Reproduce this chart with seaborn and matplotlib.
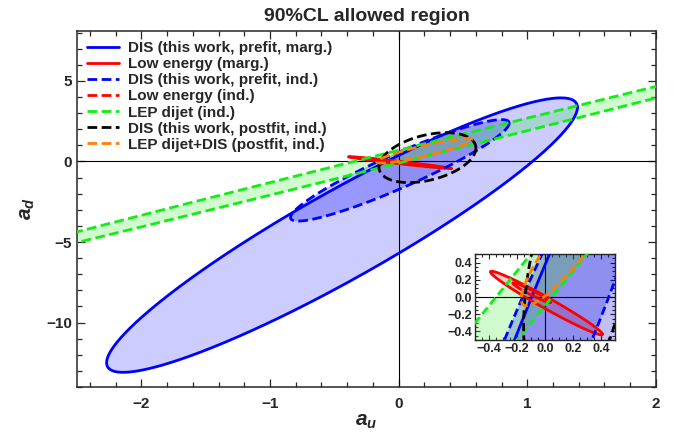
import numpy as np
import seaborn as sns
import matplotlib
matplotlib.use("Agg")
import matplotlib.pyplot as plt
from matplotlib.ticker import MultipleLocator

# 90% CL ellipses: centre, half extent along a_u / a_d, correlation
labels = ["DIS (this work, prefit, marg.)", "Low energy (marg.)",
          "DIS (this work, prefit, ind.)", "Low energy (ind.)",
          "LEP dijet (ind.)", "DIS (this work, postfit, ind.)",
          "LEP dijet+DIS (postfit, ind.)"]
center_u = [-0.44, 0.01, 0.01, -0.095, 0.0, 0.224, 0.20]
center_d = [-4.57, -0.07, -0.55, 0.05, 0.30, 0.24, 0.66]
half_u = [1.83, 0.40, 0.85, 0.135, 4.5, 0.377, 0.37]
half_d = [8.52, 0.37, 3.15, 0.115, 9.01, 1.55, 0.76]
corr = [0.93, -0.98, 0.93, -0.965, 0.99901, 0.38, 0.90]

# styles
line_colors = ["#0000ff", "#ff0000", "#0000ff", "#ff0000", "#11ee11", "#000000", "#ff8000"]
fill_alpha = [0.2, 0.2, 0.25, 0.2, 0.2, 0.06, 0.04]
dashed = [False, False, True, True, True, True, True]

sns.set_theme(style="ticks")
plt.rcParams["font.family"] = ["Liberation Sans", "DejaVu Sans"]
plt.rcParams["font.weight"] = "bold"
plt.rcParams["mathtext.fontset"] = "custom"
plt.rcParams["mathtext.it"] = "Liberation Sans:style=italic:weight=bold"
plt.rcParams["mathtext.rm"] = "Liberation Sans:weight=bold"


def ellipse(i, n=500):
    t = np.linspace(0, 2 * np.pi, n)
    r = corr[i]
    x = center_u[i] + half_u[i] * np.cos(t)
    y = center_d[i] + half_d[i] * (r * np.cos(t) + np.sqrt(1 - r * r) * np.sin(t))
    return x, y


def draw(ax, lw, dash, solid_small=False):
    handles = []
    for i in range(len(labels)):
        x, y = ellipse(i)
        ax.fill(x, y, color=line_colors[i], alpha=fill_alpha[i], lw=0, zorder=1)
    ax.axhline(0, color="black", lw=0.8, zorder=1.5)
    ax.axvline(0, color="black", lw=0.8, zorder=1.5)
    for i in range(len(labels)):
        x, y = ellipse(i)
        is_dashed = dashed[i] and not (solid_small and half_u[i] < 0.2)
        ls = (0, dash) if is_dashed else "-"
        sns.lineplot(x=x, y=y, sort=False, estimator=None, ax=ax,
                     color=line_colors[i], lw=lw, linestyle=ls, zorder=3)
        handles.append(ax.lines[-1])
    return handles


fig = plt.figure(figsize=(7, 4.4), dpi=100)
ax = fig.add_axes([0.11, 0.1205, 0.827, 0.809])
handles = draw(ax, 2.0, (3.5, 1.6))
ax.set_xlim(-2.5, 2)
ax.set_ylim(-14.0, 8.1)
ax.xaxis.set_major_locator(MultipleLocator(1))
ax.xaxis.set_minor_locator(MultipleLocator(0.2))
ax.yaxis.set_major_locator(MultipleLocator(5))
ax.yaxis.set_minor_locator(MultipleLocator(1))
ax.tick_params(which="both", direction="in", top=True, right=True, labelsize=11, width=0.9)
ax.tick_params(axis="x", pad=7)
ax.tick_params(which="major", length=6)
ax.tick_params(which="minor", length=3.5)
for s in ax.spines.values():
    s.set_linewidth(1.1)
ax.set_xlabel(r"$a_u$", fontsize=15, labelpad=1)
ax.set_ylabel(r"$a_d$", fontsize=15, labelpad=7)
ax.set_title("90%CL allowed region", fontsize=14, fontweight="bold", pad=7)

ax.legend(handles, labels, loc="upper left", frameon=False, fontsize=11,
          handlelength=2.1, handletextpad=0.6, labelspacing=0.14,
          borderaxespad=0.3, borderpad=0.35)

ins = fig.add_axes([475 / 700, 1 - 340 / 440, 140 / 700, 86 / 440])
draw(ins, 2.0, (3.0, 1.5), solid_small=True)
ins.set_xlim(-0.5, 0.5)
ins.set_ylim(-0.5, 0.5)
ins.set_xticks([-0.4, -0.2, 0.0, 0.2, 0.4])
ins.set_yticks([-0.4, -0.2, 0.0, 0.2, 0.4])
ins.xaxis.set_minor_locator(MultipleLocator(0.05))
ins.yaxis.set_minor_locator(MultipleLocator(0.05))
ins.tick_params(which="both", direction="in", top=True, right=True, labelsize=9, pad=2, width=0.8)
ins.tick_params(which="major", length=3.5)
ins.tick_params(which="minor", length=2)
ins.set_xlabel("")
ins.set_ylabel("")
for s in ins.spines.values():
    s.set_linewidth(1.0)

fig.savefig("out.png", dpi=100)
